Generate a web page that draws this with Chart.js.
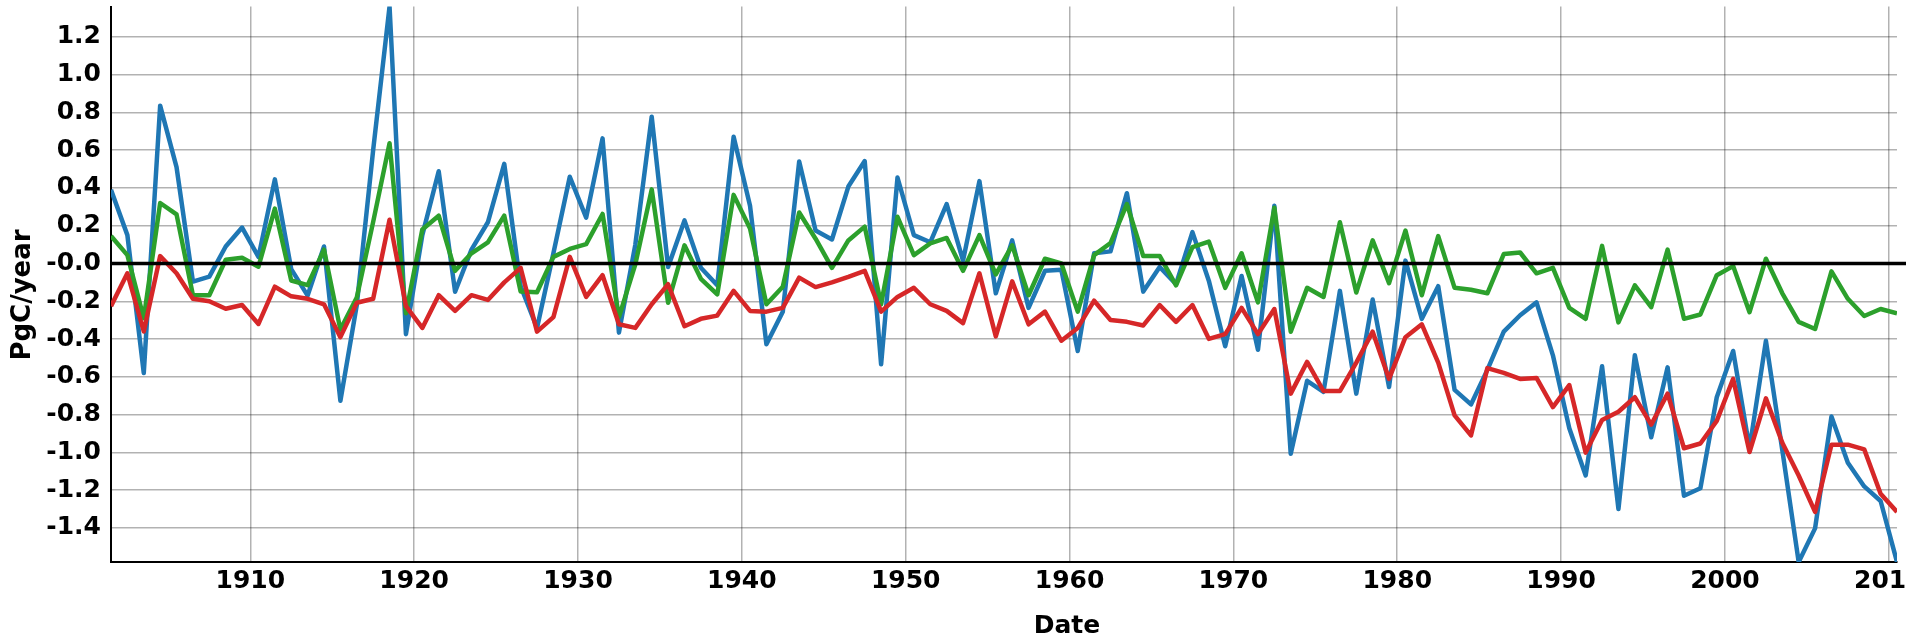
<!DOCTYPE html>
<html><head><meta charset="utf-8">
<script src="https://cdn.jsdelivr.net/npm/chart.js@4/dist/chart.umd.min.js"></script>
<style>html,body{margin:0;padding:0;background:#fff;overflow:hidden}</style>
</head><body>
<canvas id="c" width="1906" height="637"></canvas>
<script>
// ---- data (annual values, plotted at mid-year) ----
const firstYear = 1901;
const blueValues = [
  0.39, 0.15, -0.58, 0.835, 0.51, -0.096, -0.07, 0.09, 0.19, 0.035,
  0.445, -0.03, -0.17, 0.09, -0.727, -0.22, 0.6, 1.36, -0.374, 0.15,
  0.488, -0.15, 0.073, 0.218, 0.527, -0.12, -0.341, 0.054, 0.459, 0.243,
  0.662, -0.366, 0.1, 0.777, -0.019, 0.228, -0.023, -0.115, 0.671, 0.305,
  -0.428, -0.255, 0.54, 0.174, 0.127, 0.407, 0.542, -0.534, 0.455, 0.15,
  0.112, 0.314, 0.015, 0.436, -0.158, 0.122, -0.235, -0.039, -0.033, -0.463,
  0.054, 0.064, 0.372, -0.149, -0.019, -0.11, 0.166, -0.091, -0.438, -0.066,
  -0.457, 0.305, -1.007, -0.621, -0.679, -0.145, -0.689, -0.191, -0.654, 0.015,
  -0.293, -0.12, -0.669, -0.746, -0.563, -0.361, -0.274, -0.206, -0.486, -0.872,
  -1.122, -0.544, -1.30, -0.486, -0.92, -0.55, -1.229, -1.19, -0.708, -0.463,
  -0.978, -0.409, -0.988, -1.58, -1.402, -0.81, -1.055, -1.18, -1.257, -1.58
];
const greenValues = [
  0.145, 0.044, -0.29, 0.32, 0.26, -0.168, -0.168, 0.02, 0.03, -0.017,
  0.29, -0.09, -0.115, 0.073, -0.35, -0.18, 0.22, 0.636, -0.264, 0.18,
  0.253, -0.039, 0.054, 0.112, 0.253, -0.149, -0.152, 0.035, 0.077, 0.102,
  0.262, -0.284, -0.004, 0.392, -0.208, 0.096, -0.081, -0.163, 0.363, 0.185,
  -0.216, -0.123, 0.27, 0.131, -0.023, 0.122, 0.195, -0.216, 0.247, 0.044,
  0.106, 0.135, -0.039, 0.15, -0.058, 0.096, -0.168, 0.025, 0.0, -0.255,
  0.044, 0.108, 0.314, 0.039, 0.04, -0.116, 0.087, 0.116, -0.129, 0.054,
  -0.206, 0.295, -0.361, -0.129, -0.177, 0.218, -0.154, 0.122, -0.104, 0.174,
  -0.168, 0.145, -0.129, -0.139, -0.158, 0.05, 0.058, -0.052, -0.023, -0.235,
  -0.293, 0.093, -0.312, -0.116, -0.231, 0.073, -0.293, -0.27, -0.062, -0.014,
  -0.258, 0.025, -0.158, -0.309, -0.347, -0.042, -0.187, -0.278, -0.241, -0.264
];
const redValues = [
  -0.226, -0.052, -0.36, 0.039, -0.052, -0.187, -0.2, -0.24, -0.22, -0.32,
  -0.123, -0.174, -0.187, -0.216, -0.39, -0.208, -0.187, 0.231, -0.226, -0.341,
  -0.168, -0.251, -0.168, -0.193, -0.1, -0.023, -0.361, -0.284, 0.035, -0.177,
  -0.062, -0.322, -0.341, -0.216, -0.11, -0.332, -0.293, -0.276, -0.145, -0.251,
  -0.255, -0.235, -0.075, -0.125, -0.1, -0.071, -0.039, -0.255, -0.177, -0.129,
  -0.216, -0.251, -0.316, -0.052, -0.386, -0.095, -0.322, -0.255, -0.409, -0.341,
  -0.197, -0.299, -0.309, -0.328, -0.22, -0.309, -0.22, -0.399, -0.374, -0.235,
  -0.374, -0.241, -0.689, -0.521, -0.675, -0.675, -0.525, -0.361, -0.611, -0.39,
  -0.322, -0.525, -0.804, -0.91, -0.554, -0.579, -0.611, -0.606, -0.76, -0.644,
  -1.001, -0.829, -0.785, -0.708, -0.853, -0.689, -0.978, -0.953, -0.833, -0.611,
  -0.998, -0.714, -0.949, -1.122, -1.315, -0.959, -0.959, -0.984, -1.219, -1.315
];
const years = blueValues.map((_, i) => firstYear + i);
const xTickValues = [1910, 1920, 1930, 1940, 1950, 1960, 1970, 1980, 1990, 2000, 2010];
const xTickLabels = ['1910', '1920', '1930', '1940', '1950', '1960', '1970', '1980', '1990', '2000', '2010'];
const yTickValues = [-1.4, -1.2, -1.0, -0.8, -0.6, -0.4, -0.2, 0, 0.2, 0.4, 0.6, 0.8, 1.0, 1.2];
const yTickLabels = ['-1.4', '-1.2', '-1.0', '-0.8', '-0.6', '-0.4', '-0.2', '-0.0', '0.2', '0.4', '0.6', '0.8', '1.0', '1.2'];
const xAxisTitle = 'Date';
const yAxisTitle = 'PgC/year';

// ---- presentation ----
const FONT = {family: "'DejaVu Sans', sans-serif", size: 25, weight: 'bold'};
const toPoints = vals => vals.map((v, i) => ({x: years[i] + 0.5, y: v}));

const extras = {
  id: 'extras',
  afterDatasetsDraw(chart) {
    const {ctx, chartArea, scales} = chart;
    const y0 = scales.y.getPixelForValue(0);
    ctx.save();
    ctx.strokeStyle = '#000';
    ctx.lineWidth = 3.5;
    ctx.beginPath();
    ctx.moveTo(chartArea.left, y0);
    ctx.lineTo(chart.width, y0);
    ctx.stroke();
    ctx.restore();
  },
  afterDraw(chart) {
    const {ctx} = chart;
    ctx.save();
    ctx.fillStyle = '#000';
    ctx.font = "bold 25px 'DejaVu Sans', sans-serif";
    ctx.textAlign = 'center';
    ctx.textBaseline = 'alphabetic';
    ctx.fillText(xAxisTitle, 1067, 633);
    ctx.translate(23, 295);
    ctx.rotate(-Math.PI / 2);
    ctx.font = "bold 26px 'DejaVu Sans', sans-serif";
    ctx.textBaseline = 'middle';
    ctx.fillText(yAxisTitle, 0, 0);
    ctx.restore();
  }
};

const line = (vals, color, order) => ({
  data: toPoints(vals), borderColor: color, backgroundColor: color,
  borderWidth: 4.5, pointRadius: 0, tension: 0, fill: false,
  borderJoinStyle: 'round', order
});

new Chart(document.getElementById('c'), {
  type: 'line',
  data: {
    datasets: [
      line(blueValues, '#1f77b4', 3),
      line(greenValues, '#2ca02c', 2),
      line(redValues, '#d62728', 1)
    ]
  },
  options: {
    responsive: false,
    animation: false,
    layout: {padding: {left: 0, right: 9, top: 6.5, bottom: 0}},
    plugins: {legend: {display: false}, tooltip: {enabled: false}},
    scales: {
      x: {
        type: 'linear', min: firstYear + 0.5, max: years[years.length - 1] + 0.5,
        afterBuildTicks: s => { s.ticks = xTickValues.map(v => ({value: v})); },
        afterFit: s => { s.height = 75; s.paddingLeft = 0; s.paddingRight = 0; },
        ticks: {
          font: FONT, color: '#000', padding: 4, maxRotation: 0, autoSkip: false,
          callback: (v) => xTickLabels[xTickValues.indexOf(v)] ?? String(v)
        },
        grid: {color: 'rgba(0,0,0,0.3)', lineWidth: 1.5, drawTicks: false},
        border: {display: true, color: '#000', width: 2}
      },
      y: {
        type: 'linear', min: -1.58, max: 1.36,
        afterBuildTicks: s => { s.ticks = yTickValues.map(v => ({value: v})); },
        afterFit: s => { s.width = 111; s.paddingTop = 0; s.paddingBottom = 0; },
        ticks: {
          font: FONT, color: '#000', padding: 10, autoSkip: false,
          callback: (v) => {
            const i = yTickValues.findIndex(t => Math.abs(t - v) < 1e-9);
            return i >= 0 ? yTickLabels[i] : String(v);
          }
        },
        title: {display: false, text: yAxisTitle},
        grid: {color: 'rgba(0,0,0,0.3)', lineWidth: 1.5, drawTicks: false},
        border: {display: true, color: '#000', width: 2}
      }
    }
  },
  plugins: [extras]
});
</script>
</body></html>
